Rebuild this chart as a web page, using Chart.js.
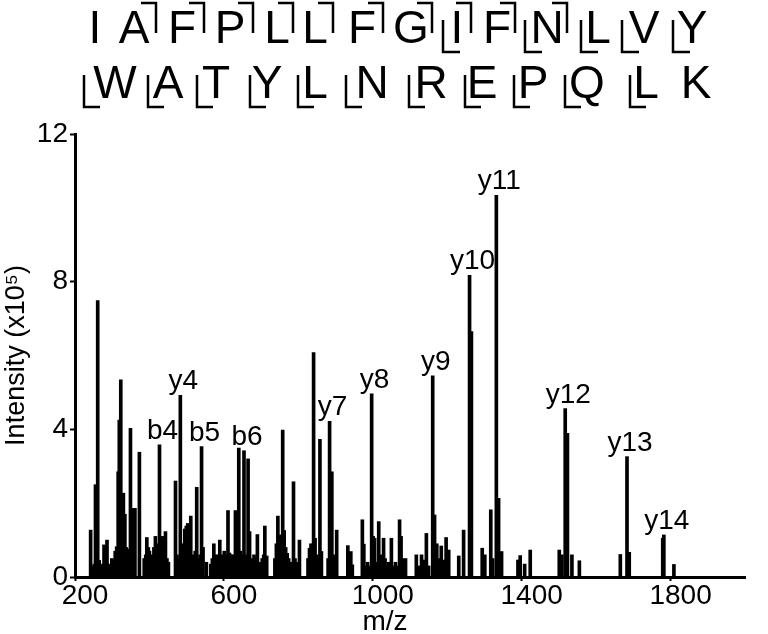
<!DOCTYPE html>
<html>
<head>
<meta charset="utf-8">
<title>Espectro MS/MS</title>
<script src="https://cdn.jsdelivr.net/npm/chart.js"></script>
<style>
  body { margin: 0; background: #fff; }
  #wrap { width: 768px; height: 634px; }
</style>
</head>
<body>
<div id="wrap"><canvas id="chart" width="768" height="634"></canvas></div>
<script>
// picos del espectro: m/z e intensidad (x10^5)
var mz = [
  242, 247, 252, 255, 261, 265, 270, 275, 278, 282,
  286, 290, 295, 299, 303, 308, 312, 316, 319, 323,
  326, 330, 334, 338, 342, 346, 349, 353, 357, 361,
  373, 386, 390, 393, 397, 400, 404, 408, 412, 416,
  420, 424, 427, 431, 435, 439, 443, 447, 451, 470,
  474, 479, 483, 487, 491, 495, 499, 503, 507, 511,
  515, 519, 523, 527, 531, 536, 540, 544, 553, 565,
  569, 573, 577, 581, 585, 589, 593, 597, 601, 605,
  611, 615, 619, 623, 627, 631, 635, 640, 644, 648,
  654, 657, 661, 665, 669, 673, 677, 681, 685, 690,
  694, 699, 703, 707, 710, 715, 737, 741, 745, 749,
  753, 758, 762, 766, 770, 774, 778, 782, 787, 791,
  795, 799, 803, 826, 830, 834, 838, 841, 845, 849,
  853, 858, 862, 880, 884, 890, 894, 898, 903, 933,
  937, 941, 945, 972, 976, 980, 986, 990, 997, 1001,
  1005, 1009, 1016, 1020, 1024, 1029, 1033, 1038, 1043, 1050,
  1055, 1061, 1066, 1072, 1076, 1080, 1088, 1117, 1122, 1131,
  1137, 1144, 1150, 1161, 1166, 1172, 1177, 1184, 1191, 1197,
  1204, 1231, 1244, 1260, 1265, 1294, 1301, 1317, 1322, 1332,
  1338, 1346, 1390, 1396, 1408, 1423, 1501, 1508, 1517, 1523,
  1535, 1555, 1665, 1683, 1689, 1779, 1782, 1809
];
var intensidad = [
  1.27, 0.3, 0.35, 2.5, 7.49, 0.45, 0.35, 0.3, 0.87, 0.5,
  1.0, 0.35, 0.3, 0.5, 0.45, 0.7, 0.82, 2.85, 4.25, 5.34,
  1.2, 2.27, 1.7, 0.8, 0.7, 0.75, 4.03, 0.7, 1.86, 1.86,
  3.38, 0.5, 0.6, 1.07, 0.8, 0.7, 0.5, 0.6, 0.8, 1.1,
  0.9, 0.6, 3.58, 0.7, 1.1, 0.6, 1.23, 0.5, 0.4, 2.6,
  0.6, 0.5, 4.92, 0.8, 0.9, 1.3, 1.38, 1.45, 0.9, 1.65,
  0.6, 0.55, 0.7, 2.43, 0.5, 0.6, 3.53, 0.8, 0.4, 0.35,
  0.5, 0.9, 0.6, 0.5, 0.6, 1.0, 0.6, 0.55, 0.7, 0.6,
  1.8, 0.65, 0.6, 0.6, 0.5, 1.8, 0.6, 3.49, 0.7, 0.6,
  3.42, 0.6, 0.55, 3.2, 1.23, 0.5, 0.4, 0.6, 0.5, 1.15,
  0.3, 0.4, 0.5, 0.6, 1.38, 0.57, 0.5, 0.9, 1.65, 1.14,
  0.8, 3.98, 1.26, 0.8, 0.64, 0.5, 0.4, 0.3, 2.58, 0.5,
  0.4, 0.3, 1.0, 0.5, 0.78, 0.9, 0.8, 6.08, 1.05, 0.6,
  0.5, 3.73, 0.69, 0.5, 4.22, 2.85, 0.6, 0.5, 1.27, 0.85,
  0.4, 0.69, 0.33, 1.55, 0.89, 0.3, 0.4, 0.3, 4.96, 1.1,
  1.05, 0.4, 1.5, 0.6, 0.3, 1.05, 0.5, 0.3, 0.4, 1.05,
  0.3, 0.4, 0.3, 1.55, 1.1, 0.5, 0.5, 0.6, 0.3, 0.6,
  0.46, 1.18, 0.3, 5.45, 1.68, 0.9, 0.5, 0.84, 0.46, 1.07,
  0.73, 0.57, 1.27, 8.17, 6.65, 0.78, 0.6, 1.82, 0.5, 10.34,
  2.13, 0.69, 0.46, 0.58, 0.35, 0.73, 0.73, 0.6, 4.56, 3.89,
  0.6, 0.44, 0.61, 3.26, 0.67, 1.05, 1.14, 0.34
];

// iones anotados
var iones = ['b4', 'y4', 'b5', 'b6', 'y7', 'y8', 'y9', 'y10', 'y11', 'y12', 'y13', 'y14'];
var ionesMz = [427, 483, 540, 654, 884, 997, 1161, 1260, 1332, 1517, 1683, 1782];

var ticksX = [200, 600, 1000, 1400, 1800];
var ticksY = [0, 4, 8, 12];

// secuencias con marcas de fragmento ('r' = ┐ despues, 'l' = └ antes)
var secuencia1 = ['I', 'A', 'F', 'P', 'L', 'L', 'F', 'G', 'I', 'F', 'N', 'L', 'V', 'Y'];
var marcas1 = ['', 'r', 'r', 'r', 'r', 'r', 'r', 'r', 'lr', 'r', 'lr', 'l', 'l', 'l'];
var secuencia2 = ['W', 'A', 'T', 'Y', 'L', 'N', 'R', 'E', 'P', 'Q', 'L', 'K'];
var marcas2 = ['l', 'l', 'l', 'l', 'l', 'l', 'l', 'l', 'l', 'l', 'l', ''];

// posiciones de dibujo de la secuencia (pixeles)
var pos1 = [95, 134, 182, 230, 277, 315, 362, 411, 457, 497, 547, 598, 644, 692];
var der1 = [0, 156, 204, 253, 293, 333, 383, 432, 471, 515, 567, 0, 0, 0];
var izq1 = [0, 0, 0, 0, 0, 0, 0, 0, 443, 0, 525, 581, 622, 673];
var pos2 = [115, 168, 216, 267, 315, 372, 431, 482, 533, 587, 646, 696];
var izq2 = [84, 148, 197, 250, 298, 346, 409, 465, 514, 565, 630, 0];

var fuente = "'Liberation Sans', Arial, Helvetica, sans-serif";
Chart.defaults.font.family = fuente;
Chart.defaults.color = '#000';

var puntos = mz.map(function (m, i) { return { x: m, y: intensidad[i] }; });

var textos = {
    id: 'textos',
    afterDraw: function (chart) {
        var ctx = chart.ctx;
        var sx = chart.scales.x, sy = chart.scales.y;
        ctx.save();
        ctx.fillStyle = '#000';
        ctx.strokeStyle = '#000';

        // etiquetas de los iones
        ctx.font = '28px ' + fuente;
        ctx.textAlign = 'center';
        ctx.textBaseline = 'alphabetic';
        iones.forEach(function (nombre, i) {
            var k = mz.indexOf(ionesMz[i]);
            var px = sx.getPixelForValue(mz[k]) + 3;
            var py = sy.getPixelForValue(intensidad[k]) - 6;
            ctx.fillText(nombre, px, py);
        });

        // titulo del eje x
        ctx.font = '28px ' + fuente;
        ctx.fillText('m/z', 385, 630);

        // secuencia
        ctx.font = '46px ' + fuente;
        ctx.lineWidth = 2.5;
        secuencia1.forEach(function (letra, i) {
            ctx.fillText(letra, pos1[i], 43);
            if (marcas1[i].indexOf('r') >= 0) {
                ctx.beginPath();
                ctx.moveTo(der1[i] - 15, 3);
                ctx.lineTo(der1[i], 3);
                ctx.lineTo(der1[i], 33);
                ctx.stroke();
            }
            if (marcas1[i].indexOf('l') >= 0) {
                ctx.beginPath();
                ctx.moveTo(izq1[i], 20);
                ctx.lineTo(izq1[i], 52);
                ctx.lineTo(izq1[i] + 17, 52);
                ctx.stroke();
            }
        });
        secuencia2.forEach(function (letra, i) {
            ctx.fillText(letra, pos2[i], 98);
            if (marcas2[i].indexOf('l') >= 0) {
                ctx.beginPath();
                ctx.moveTo(izq2[i], 75);
                ctx.lineTo(izq2[i], 107);
                ctx.lineTo(izq2[i] + 16, 107);
                ctx.stroke();
            }
        });
        ctx.restore();
    }
};

var chart = new Chart(document.getElementById('chart'), {
    type: 'bar',
    data: {
        datasets: [{
            data: puntos,
            backgroundColor: '#000',
            borderWidth: 0,
            barThickness: 3
        }]
    },
    options: {
        responsive: false,
        animation: false,
        layout: { padding: { top: 134, right: 23, left: 0, bottom: 0 } },
        plugins: { legend: { display: false }, tooltip: { enabled: false } },
        scales: {
            x: {
                type: 'linear',
                min: 200,
                max: 2000,
                offset: false,
                afterBuildTicks: function (s) { s.ticks = ticksX.map(function (v) { return { value: v }; }); },
                afterFit: function (s) { s.height = 57; },
                border: { display: true, width: 3, color: '#000' },
                grid: { offset: false, drawOnChartArea: false, drawTicks: true, tickLength: 4, tickWidth: 2, tickColor: '#000' },
                ticks: {
                    font: { size: 28, lineHeight: 1 }, padding: 1, labelOffset: 10, maxRotation: 0, autoSkip: false,
                    callback: function (v) { return String(v); }
                }
            },
            y: {
                min: 0,
                max: 12,
                afterBuildTicks: function (s) { s.ticks = ticksY.map(function (v) { return { value: v }; }); },
                afterFit: function (s) { s.width = 75; },
                border: { display: true, width: 3, color: '#000' },
                grid: { drawOnChartArea: false, drawTicks: true, tickLength: 5, tickWidth: 2, tickColor: '#000' },
                ticks: { font: { size: 28 }, padding: 2, callback: function (v) { return String(v); } },
                title: { display: true, text: 'Intensity (x10⁵)', font: { size: 27 }, padding: 0 }
            }
        }
    },
    plugins: [textos]
});
</script>
</body>
</html>
